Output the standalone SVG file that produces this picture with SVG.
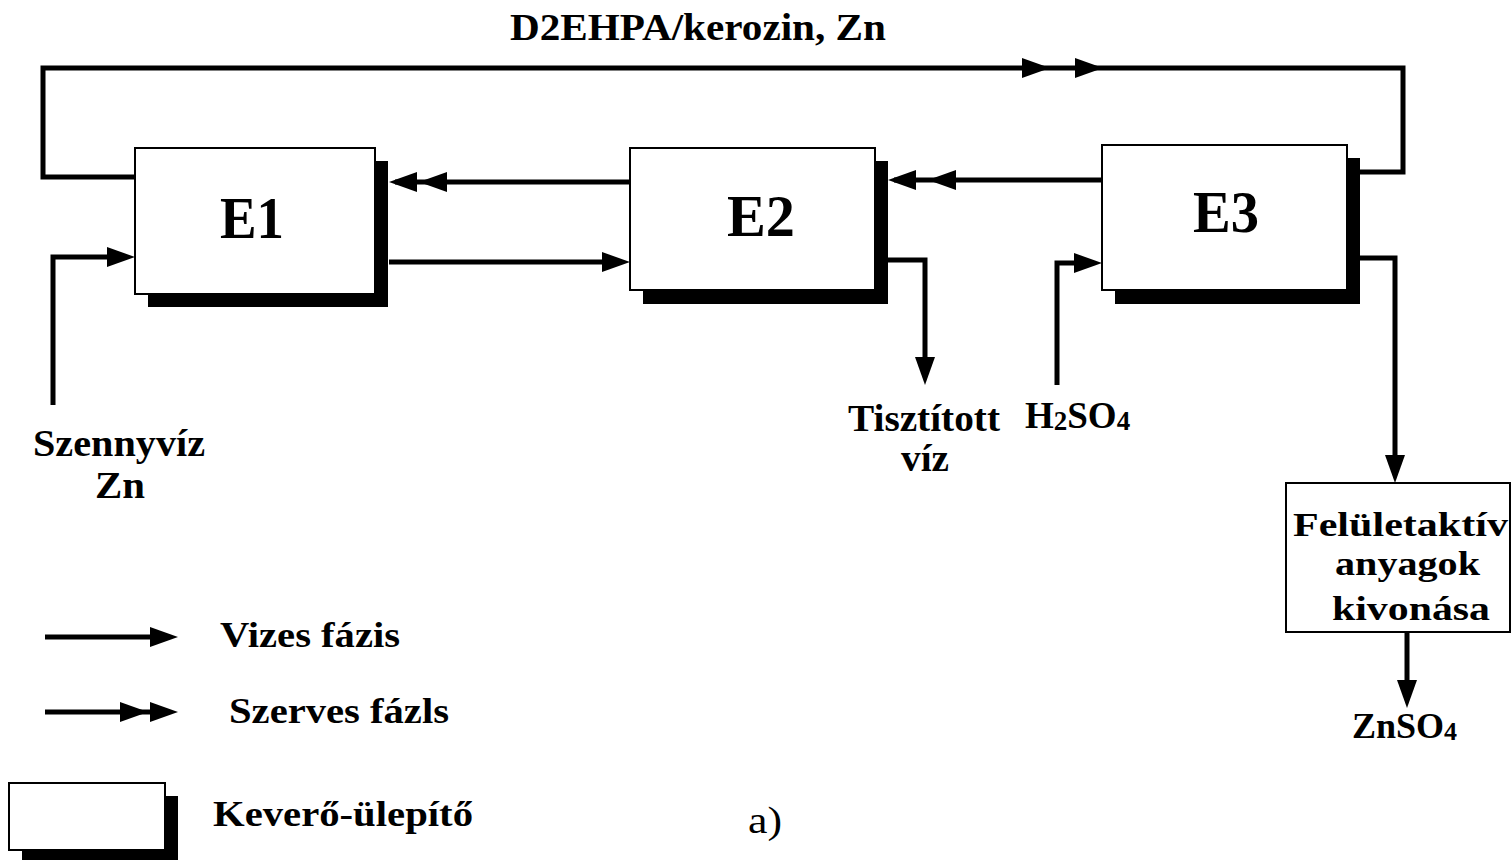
<svg xmlns="http://www.w3.org/2000/svg" width="1512" height="860" viewBox="0 0 1512 860">
<style>
.t{font-family:"Liberation Serif","Times New Roman",serif;font-weight:bold;fill:#000}
.box{fill:#fff;stroke:#000;stroke-width:2}
.sh{fill:#000}
.ln{fill:none;stroke:#000;stroke-width:5;stroke-linejoin:miter}
</style>
<defs>
<path id="ah" d="M0,0 L-28,-10 L-28,10 Z" fill="#000"/>
</defs>
<rect width="1512" height="860" fill="#fff"/>
<text class="t" x="510" y="40" font-size="38" textLength="376" lengthAdjust="spacingAndGlyphs">D2EHPA/kerozin, Zn</text>

<g id="connectors">
<polyline class="ln" points="135,177 43,177 43,68 1403,68 1403,172 1360,172"/>
<use href="#ah" transform="translate(1050,68)"/>
<use href="#ah" transform="translate(1103,68)"/>
<line class="ln" x1="630" y1="182" x2="395" y2="182"/>
<use href="#ah" transform="translate(389,182) rotate(180)"/>
<use href="#ah" transform="translate(419,182) rotate(180)"/>
<line class="ln" x1="1102" y1="180" x2="894" y2="180"/>
<use href="#ah" transform="translate(888,180) rotate(180)"/>
<use href="#ah" transform="translate(928,180) rotate(180)"/>
<line class="ln" x1="389" y1="262" x2="608" y2="262"/>
<use href="#ah" transform="translate(630,262)"/>
<polyline class="ln" points="53,405 53,257 113,257"/>
<use href="#ah" transform="translate(135,257)"/>
<polyline class="ln" points="888,260 925,260 925,365"/>
<use href="#ah" transform="translate(925,385) rotate(90)"/>
<polyline class="ln" points="1057,385 1057,263 1080,263"/>
<use href="#ah" transform="translate(1102,263)"/>
<polyline class="ln" points="1360,258 1395,258 1395,462"/>
<use href="#ah" transform="translate(1395,483) rotate(90)"/>
<line class="ln" x1="1407" y1="633" x2="1407" y2="688"/>
<use href="#ah" transform="translate(1407,708) rotate(90)"/>
</g>

<g id="E1">
<rect class="sh" x="148" y="161" width="240" height="146"/>
<rect class="box" x="135" y="148" width="240" height="146"/>
<text class="t" x="252" y="238" font-size="60" text-anchor="middle" textLength="64" lengthAdjust="spacingAndGlyphs">E1</text>
</g>
<g id="E2">
<rect class="sh" x="643" y="161" width="245" height="143"/>
<rect class="box" x="630" y="148" width="245" height="142"/>
<text class="t" x="761" y="236" font-size="60" text-anchor="middle" textLength="68" lengthAdjust="spacingAndGlyphs">E2</text>
</g>
<g id="E3">
<rect class="sh" x="1115" y="158" width="245" height="146"/>
<rect class="box" x="1102" y="145" width="245" height="145"/>
<text class="t" x="1226" y="232" font-size="60" text-anchor="middle" textLength="66" lengthAdjust="spacingAndGlyphs">E3</text>
</g>
<g id="felulet">
<rect class="box" x="1286" y="483" width="224" height="149"/>
<text class="t" x="1293" y="536" font-size="33" textLength="215" lengthAdjust="spacingAndGlyphs">Felületaktív</text>
<text class="t" x="1335" y="575" font-size="33" textLength="145" lengthAdjust="spacingAndGlyphs">anyagok</text>
<text class="t" x="1332" y="620" font-size="33" textLength="158" lengthAdjust="spacingAndGlyphs">kivonása</text>
</g>

<g id="labels">
<text class="t" x="33" y="456" font-size="38" textLength="172" lengthAdjust="spacingAndGlyphs">Szennyvíz</text>
<text class="t" x="120" y="498" font-size="38" text-anchor="middle" textLength="50" lengthAdjust="spacingAndGlyphs">Zn</text>
<text class="t" x="848" y="431" font-size="37" textLength="152" lengthAdjust="spacingAndGlyphs">Tisztított</text>
<text class="t" x="925" y="471" font-size="37" text-anchor="middle" textLength="48" lengthAdjust="spacingAndGlyphs">víz</text>
<text class="t" x="1025" y="428" font-size="37">H<tspan font-size="27" dy="2">2</tspan><tspan dy="-2">SO</tspan><tspan font-size="27" dy="2">4</tspan></text>
<text class="t" x="1352" y="738" font-size="36">ZnSO<tspan font-size="26" dy="2">4</tspan></text>
</g>

<g id="legend">
<line class="ln" x1="45" y1="637" x2="155" y2="637"/>
<use href="#ah" transform="translate(178,637)"/>
<text class="t" x="220" y="647" font-size="36" textLength="180" lengthAdjust="spacingAndGlyphs">Vizes fázis</text>
<line class="ln" x1="45" y1="712" x2="155" y2="712"/>
<use href="#ah" transform="translate(148,712)"/>
<use href="#ah" transform="translate(178,712)"/>
<text class="t" x="229" y="723" font-size="36" textLength="220" lengthAdjust="spacingAndGlyphs">Szerves fázls</text>
<rect class="sh" x="22" y="796" width="156" height="66"/>
<rect class="box" x="9" y="783" width="156" height="67"/>
<text class="t" x="213" y="826" font-size="36" textLength="260" lengthAdjust="spacingAndGlyphs">Keverő-ülepítő</text>
<text x="748" y="833" font-family="Liberation Serif, serif" font-size="38" textLength="34" lengthAdjust="spacingAndGlyphs">a)</text>
</g>
</svg>
